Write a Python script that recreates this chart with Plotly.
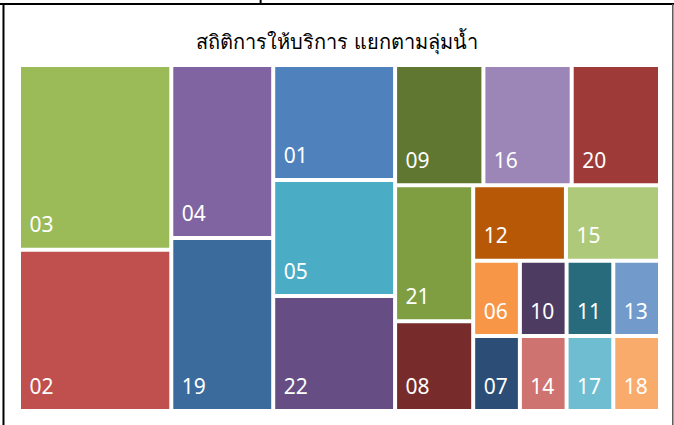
import plotly.graph_objects as go

# ---- data ----
title_text = "สถิติการให้บริการ แยกตามลุ่มน้ำ"

codes = ["03", "02", "04", "19", "01", "05", "22", "09", "16", "20", "21",
         "08", "12", "15", "06", "07", "10", "14", "11", "17", "13", "18"]
values = [281, 245, 176, 176, 140, 141, 140, 106, 106, 106, 106,
          70, 70, 71, 35, 35, 35, 35, 35, 35, 35, 35]
colors = ["#9BBB59", "#C0504D", "#8064A2", "#3B6A9C", "#4F81BD", "#4BACC6",
          "#664E84", "#607731", "#9B86B7", "#9E3B39", "#7F9E42", "#772B2A",
          "#B75806", "#AFC97A", "#F79646", "#2C4D75", "#4D3B62", "#CF7371",
          "#276B7C", "#6FBDD1", "#729ACA", "#F9AB6B"]

# layout grouping of the tiles (as arranged in the original treemap)
leaf_group = {
    "03": "c1", "02": "c1", "04": "c2", "19": "c2",
    "01": "c3", "05": "c3", "22": "c3",
    "09": "T", "16": "T", "20": "T",
    "21": "L", "08": "L", "12": "P", "15": "P",
    "06": "d1", "07": "d1", "10": "d2", "14": "d2",
    "11": "d3", "17": "d3", "13": "d4", "18": "d4",
}
groups = [("c1", ""), ("c2", ""), ("c3", ""), ("R", ""),
          ("T", "R"), ("B", "R"), ("L", "B"), ("C", "B"),
          ("P", "C"), ("D", "C"),
          ("d1", "D"), ("d2", "D"), ("d3", "D"), ("d4", "D")]

LABEL_SIZE = 21
ids, labels, parents, vals, cols, texts = [], [], [], [], [], []
for gid, gpar in groups:
    ids.append(gid)
    labels.append(gid)
    parents.append(gpar)
    vals.append(0)
    cols.append("#FFFFFF")
    texts.append("")
for c, v, col in zip(codes, values, colors):
    ids.append("leaf" + c)
    labels.append(c)
    parents.append(leaf_group[c])
    vals.append(v)
    cols.append(col)
    texts.append("<span style='font-size:%dpx'>\u00a0%%{label}</span><br>\u00a0" % LABEL_SIZE)

fig = go.Figure(go.Treemap(
    ids=ids, labels=labels, parents=parents, values=vals,
    branchvalues="remainder", sort=False,
    texttemplate=texts, textposition="bottom left",
    textfont=dict(family="Noto Sans, DejaVu Sans, sans-serif", size=8, color="white"),
    marker=dict(colors=cols, line=dict(width=0),
                pad=dict(t=0, l=0, r=0, b=0)),
    tiling=dict(packing="slice-dice", pad=4),
    pathbar=dict(visible=False),
    root=dict(color="white"),
    hoverinfo="skip",
))

L, R, T, B = 21, 16.3, 67, 16
W, H = 674, 425


def px(x):
    return (x - L) / (W - L - R)


def py(y):
    return (H - B - y) / (H - T - B)


shapes = [
    dict(type="line", xref="paper", yref="paper", x0=px(0), x1=px(674), y0=py(4), y1=py(4),
         line=dict(color="black", width=2)),
    dict(type="line", xref="paper", yref="paper", x0=px(3.5), x1=px(3.5), y0=py(4), y1=py(425),
         line=dict(color="black", width=2)),
    dict(type="line", xref="paper", yref="paper", x0=px(672.5), x1=px(672.5), y0=py(4), y1=py(425),
         line=dict(color="#555555", width=1.5)),
    dict(type="line", xref="paper", yref="paper", x0=px(260.5), x1=px(260.5), y0=py(0), y1=py(4),
         line=dict(color="black", width=2)),
]

fig.update_layout(
    width=W, height=H,
    margin=dict(l=L, r=R, t=T, b=B),
    paper_bgcolor="white",
    title=dict(text=title_text, x=0.5, xanchor="center", y=1 - 42 / H, yanchor="middle",
               font=dict(family="Noto Sans, DejaVu Sans, sans-serif", size=20,
                         color="black", weight=500)),
    shapes=shapes,
)

fig.write_html("out.html", config={"displayModeBar": False},
               post_script="document.body.style.margin='0';")
